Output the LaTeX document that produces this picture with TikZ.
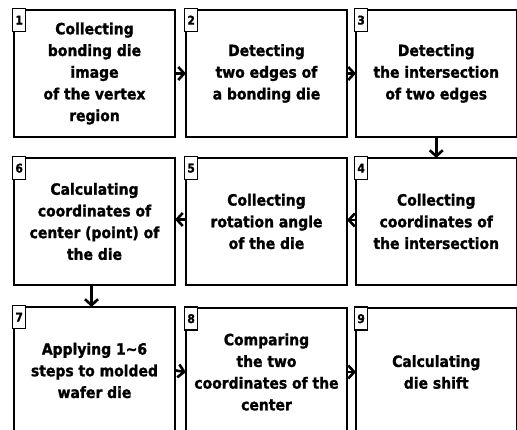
\documentclass[tikz,border=0pt]{standalone}
\usepackage{fontspec}
\newfontfamily\boxfont[BoldFeatures={FakeBold=1.3}]{DejaVu Sans Condensed}
\usetikzlibrary{arrows.meta}
\begin{document}
\begin{tikzpicture}[x=1pt,y=-1pt,
  stepbox/.style={draw=black, line width=2pt, anchor=north west, inner sep=0pt,
    minimum width=161pt, minimum height=127pt, align=center,
    font=\boxfont\bfseries\fontsize{15.5}{21.7}\selectfont},
  numlab/.style={draw=black, line width=1.3pt, anchor=north west, inner sep=0pt,
    minimum width=13pt, minimum height=23pt, fill=white,
    font=\boxfont\bfseries\fontsize{12}{14}\selectfont},
  flow/.style={line width=2.6pt, -{Straight Barb[length=6pt,width=13pt,line width=2.6pt]}, shorten >=-1pt}
]
\clip (0,0) rectangle (517,430);
\fill[white] (0,0) rectangle (517,430);
% row 1
\node[stepbox] (b1) at (13,9) {Collecting\\bonding die\\image\\of the vertex\\region};
\node[stepbox] (b2) at (185,9) {Detecting\\two edges of\\a bonding die};
\node[stepbox, minimum width=160.5pt] (b3) at (355,9) {Detecting\\the intersection\\of two edges};
% row 2
\node[stepbox] (b6) at (13,157) {Calculating\\coordinates of\\center (point) of\\the die};
\node[stepbox] (b5) at (185,157) {Collecting\\rotation angle\\of the die};
\node[stepbox, minimum width=160.5pt] (b4) at (355,157) {Collecting\\coordinates of\\the intersection};
% row 3
\node[stepbox] (b7) at (13,306) {Applying 1\textasciitilde 6\\steps to molded\\wafer die};
\node[stepbox] (b8) at (185,307.5) {Comparing\\the two\\coordinates of the\\center};
\node[stepbox, minimum width=160.5pt] (b9) at (355,307.5) {Calculating\\die shift};
% number labels
\node[numlab] (n1) at ([shift={(-1pt,1pt)}]b1.north west) {1};
\node[numlab] (n2) at ([shift={(-1pt,1pt)}]b2.north west) {2};
\node[numlab] (n3) at ([shift={(-1pt,1pt)}]b3.north west) {3};
\node[numlab] (n4) at ([shift={(-1pt,1pt)}]b4.north west) {4};
\node[numlab] (n5) at ([shift={(-1pt,1pt)}]b5.north west) {5};
\node[numlab] (n6) at ([shift={(-1pt,1pt)}]b6.north west) {6};
\node[numlab] (n7) at ([shift={(-1pt,1pt)}]b7.north west) {7};
\node[numlab] (n8) at ([shift={(-1pt,1pt)}]b8.north west) {8};
\node[numlab] (n9) at ([shift={(-1pt,1pt)}]b9.north west) {9};
% connectors
\draw[flow] (b1.east) -- (b2.west);
\draw[flow] (b2.east) -- (b3.west);
\draw[flow] (b3.south) -- (b4.north);
\draw[flow] ([yshift=1.5pt]b4.west) -- ([yshift=1.5pt]b5.east);
\draw[flow] ([yshift=2pt]b5.west) -- ([yshift=2pt]b6.east);
\draw[flow] ([xshift=-3pt]b6.south) -- ([xshift=-3pt]b7.north);
\draw[flow] (b7.east) -- (b8.west);
\draw[flow] (b8.east) -- (b9.west);
\end{tikzpicture}
\end{document}
